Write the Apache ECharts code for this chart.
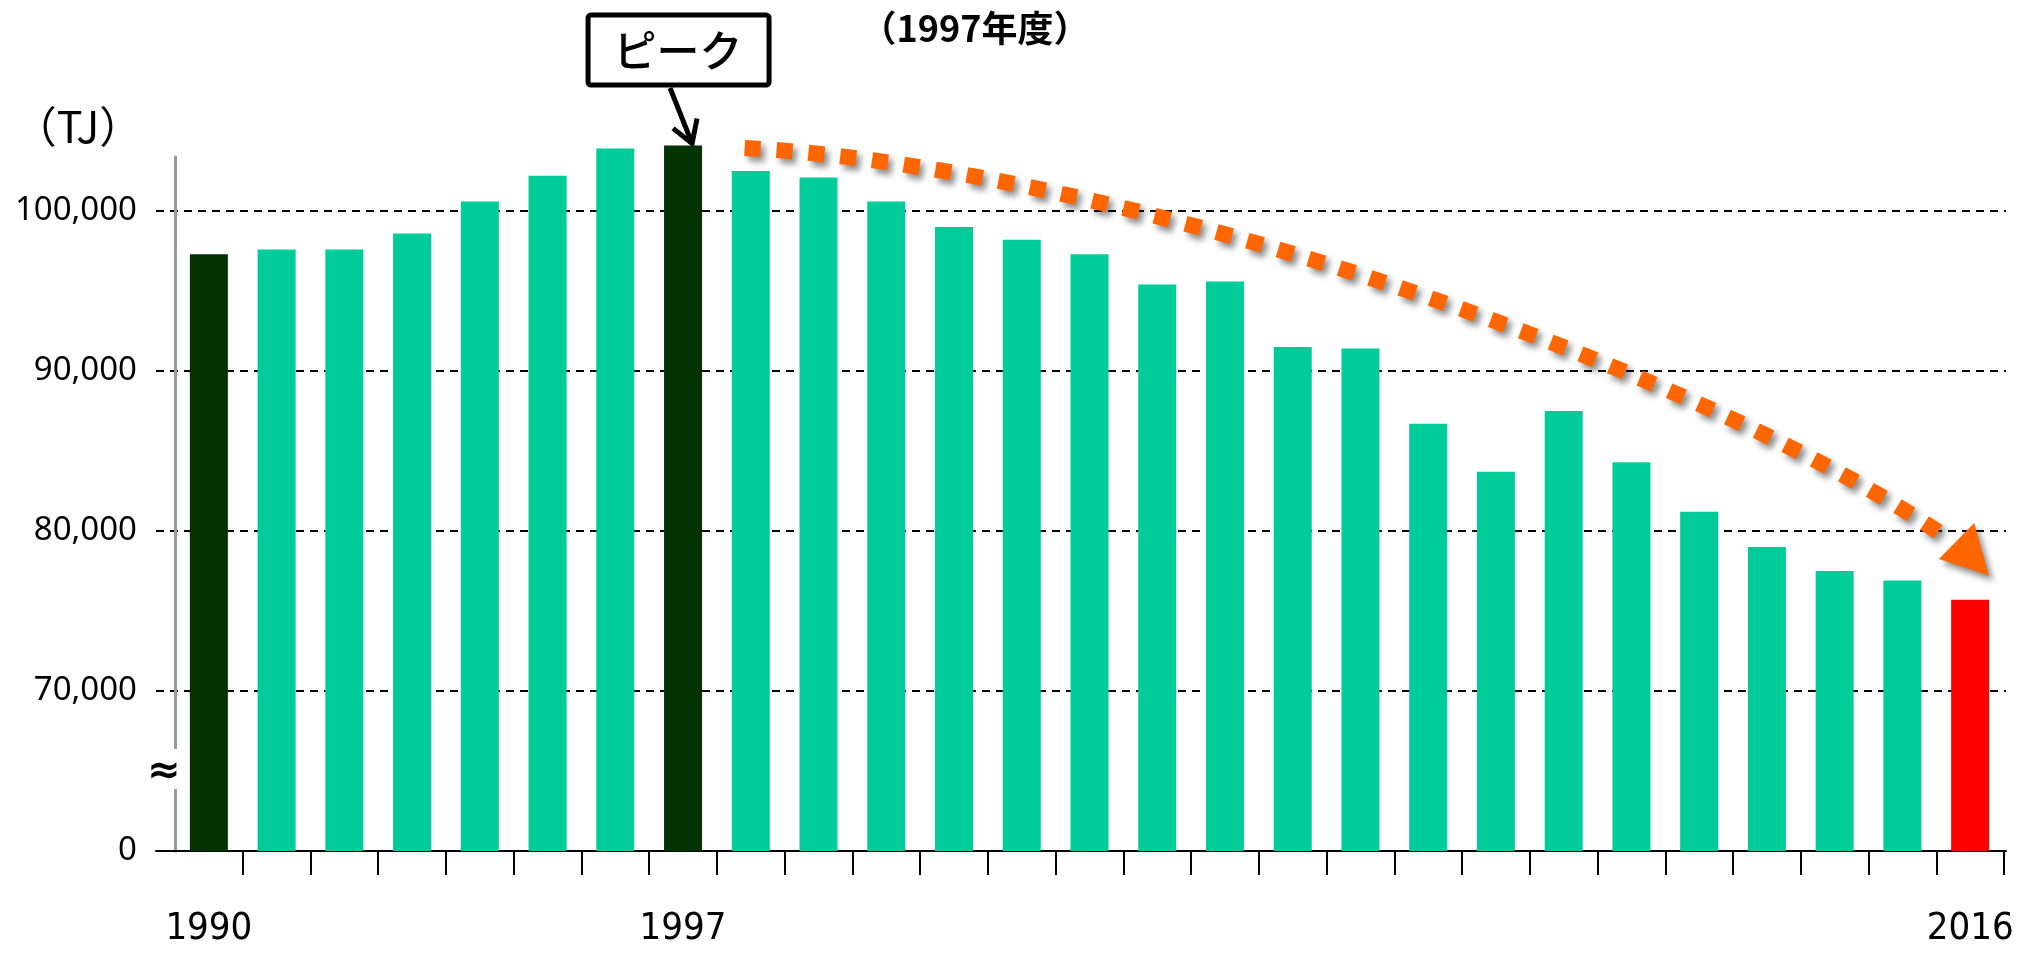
<!DOCTYPE html>
<html>
<head>
<meta charset="utf-8">
<script src="https://cdn.jsdelivr.net/npm/echarts@6/dist/echarts.min.js"></script>
<style>
  html, body { margin: 0; padding: 0; background: #fff; }
  #main { width: 2018px; height: 954px; }
</style>
</head>
<body>
<div id="main"></div>
<script>
// fiscal years 1990 - 2016
var years = ['1990', '1991', '1992', '1993', '1994', '1995', '1996', '1997', '1998', '1999',
             '2000', '2001', '2002', '2003', '2004', '2005', '2006', '2007', '2008', '2009',
             '2010', '2011', '2012', '2013', '2014', '2015', '2016'];
// energy use (TJ)
var energy = [97300, 97600, 97600, 98600, 100600, 102200, 103900, 104100, 102500, 102100,
              100600, 99000, 98200, 97300, 95400, 95600, 91500, 91400, 86700, 83700,
              87500, 84300, 81200, 79000, 77500, 76900, 75700];
var labelYears = ['1990', '1997', '2016'];
var baseYear = '1990', peakYear = '1997', lastYear = '2016';
// axis is broken: the bottom tick (60,000) is shown as 0
var axisFloor = 60000;
var yTickLabels = { 60000: '0', 70000: '70,000', 80000: '80,000', 90000: '90,000', 100000: '100,000' };

var chart = echarts.init(document.getElementById('main'));

var option = {
    animation: false,
    backgroundColor: '#fff',
    grid: [
        { left: 175, right: 14, top: 131, bottom: 103 },   // bars
        { left: 156, right: 12, top: 211, bottom: 103 },   // labels, grid lines, base line
        { left: 175, right: 14, top: 157, bottom: 103 }    // grey value axis line
    ],
    xAxis: [
        {
            type: 'category', gridIndex: 0, data: years,
            axisLine: { show: false },
            axisTick: {
                show: true, length: 24,
                interval: function (i) { return i > 0; },
                lineStyle: { color: '#000', width: 2 }
            },
            axisLabel: {
                interval: function (i, v) { return labelYears.indexOf(v) >= 0; },
                margin: 59, color: '#000',
                fontFamily: '"Liberation Sans Narrow", "DejaVu Sans Condensed", sans-serif',
                fontSize: 38
            }
        },
        {
            type: 'value', gridIndex: 1, min: 0, max: 1,
            axisLine: { show: true, onZero: false, lineStyle: { color: '#000', width: 2 } },
            axisTick: { show: false }, axisLabel: { show: false }, splitLine: { show: false }
        },
        {
            type: 'value', gridIndex: 2, min: 0, max: 1, show: false
        }
    ],
    yAxis: [
        {
            type: 'value', gridIndex: 0, min: axisFloor, max: 105000,
            axisLine: { show: false }, axisTick: { show: false },
            axisLabel: { show: false }, splitLine: { show: false }
        },
        {
            type: 'value', gridIndex: 1, min: axisFloor, max: 100000, interval: 10000,
            axisLine: { show: false }, axisTick: { show: false },
            axisLabel: {
                margin: 19, color: '#000', fontFamily: '"Noto Sans", sans-serif', fontSize: 33,
                padding: [0, 0, 28, 0],
                formatter: function (v) { return yTickLabels[v] || ''; }
            },
            splitLine: { show: true, lineStyle: { color: '#000', width: 2, type: [8, 6] } }
        },
        {
            type: 'value', gridIndex: 2, min: 0, max: 1,
            axisLine: { show: true, onZero: false, lineStyle: { color: '#999', width: 3 } },
            axisTick: { show: false }, axisLabel: { show: false }, splitLine: { show: false }
        }
    ],
    series: [{
        type: 'bar', xAxisIndex: 0, yAxisIndex: 0,
        data: energy, barWidth: 38,
        itemStyle: {
            color: function (p) {
                if (p.name === lastYear) return '#FF0000';
                if (p.name === baseYear || p.name === peakYear) return '#033303';
                return '#00CC99';
            }
        }
    }]
};
chart.setOption(option);

// annotations, placed from the axes
function pt(idx, val) {
    var x0 = chart.convertToPixel({ xAxisIndex: 0 }, 0);
    var x1 = chart.convertToPixel({ xAxisIndex: 0 }, 1);
    return [x0 + idx * (x1 - x0), chart.convertToPixel({ yAxisIndex: 0 }, val)];
}
var peakIdx = years.indexOf(peakYear);
var peak = pt(peakIdx, energy[peakIdx]);

var c0 = pt(7.91, 103940), c1 = pt(13.89, 102560), c2 = pt(22.31, 89440), c3 = pt(25.70, 79440);
var hTip = pt(26.28, 77200), hA = pt(25.54, 78250), hB = pt(26.06, 80500);
var shadow = { shadowColor: 'rgba(0,0,0,0.45)', shadowBlur: 6, shadowOffsetX: 4, shadowOffsetY: 5 };

var breakY = chart.convertToPixel({ yAxisIndex: 0 }, 65000);
var axisX = pt(-0.5, axisFloor)[0];

chart.setOption({
    graphic: [
        // axis break
        { type: 'rect', shape: { x: axisX - 4, y: breakY - 22, width: 8, height: 40 }, style: { fill: '#fff' }, z: 50 },
        { type: 'text', x: axisX - 11, y: breakY + 2, z: 51,
          style: { text: '≈', fill: '#000', font: 'bold 40px "DejaVu Sans", sans-serif', align: 'center', verticalAlign: 'middle' } },
        // unit
        { type: 'text', x: 78, y: 127,
          style: { text: '（TJ）', fill: '#000', font: '43px "Noto Sans CJK JP", sans-serif', align: 'center', verticalAlign: 'middle' } },
        // note on the peak year
        { type: 'text', x: 975, y: 28,
          style: { text: '（1997年度）', fill: '#000', font: 'bold 36px "Noto Sans CJK JP", sans-serif', align: 'center', verticalAlign: 'middle' } },
        // peak box
        { type: 'rect', shape: { x: peak[0] - 95, y: 15, width: 181, height: 70, r: 3 },
          style: { fill: '#fff', stroke: '#000', lineWidth: 5 } },
        { type: 'text', x: peak[0] - 5, y: 51,
          style: { text: 'ピーク', fill: '#000', font: '500 43px "Noto Sans CJK JP", sans-serif', align: 'center', verticalAlign: 'middle' } },
        { type: 'line', shape: { x1: peak[0] - 13, y1: 88, x2: peak[0] + 9, y2: peak[1] - 2 },
          style: { stroke: '#000', lineWidth: 5 } },
        { type: 'polyline', shape: { points: [[peak[0] - 10, peak[1] - 17], [peak[0] + 9, peak[1] - 2], [peak[0] + 14, peak[1] - 27]] },
          style: { stroke: '#000', lineWidth: 5, fill: null, lineJoin: 'miter' } },
        // decline arrow
        { type: 'bezierCurve', z: 60,
          shape: { x1: c0[0], y1: c0[1], cpx1: c1[0], cpy1: c1[1], cpx2: c2[0], cpy2: c2[1], x2: c3[0], y2: c3[1] },
          style: Object.assign({ stroke: '#FF6600', lineWidth: 16, lineDash: [16, 16], fill: null }, shadow) },
        { type: 'polygon', z: 60, shape: { points: [hA, hB, hTip] },
          style: Object.assign({ fill: '#FF6600' }, shadow) }
    ]
});
</script>
</body>
</html>
